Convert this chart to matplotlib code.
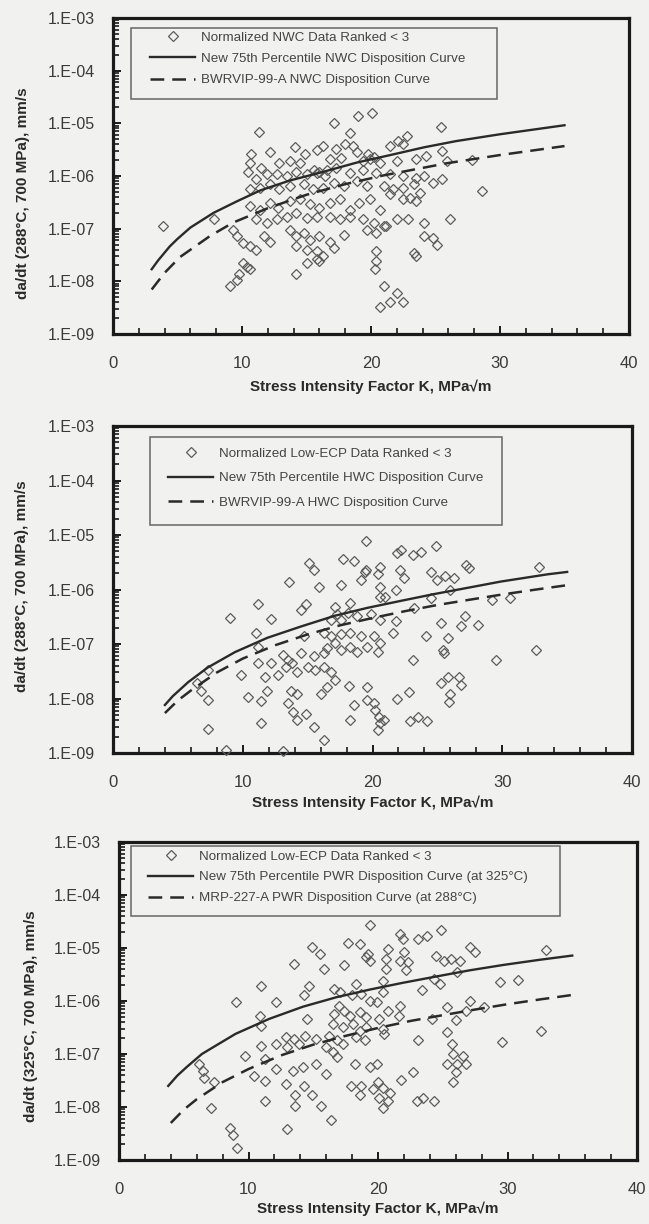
import matplotlib
matplotlib.use("Agg")
import matplotlib.pyplot as plt
from matplotlib.patches import Rectangle
from matplotlib.ticker import MultipleLocator, LogLocator, FuncFormatter, NullFormatter
import numpy as np

plt.rcParams['font.family'] = ['Liberation Sans', 'DejaVu Sans']

# ---- NWC (normal water chemistry) data, 288C ----
nwc_k = [17.1, 19.0, 20.1, 11.3, 25.4, 18.4, 10.7, 12.2, 14.1, 14.9, 15.8, 16.3, 17.3, 18.0, 18.6,
         18.9, 21.5, 22.1, 22.8, 22.5, 23.5, 24.3, 25.5, 25.9, 27.8, 19.4, 19.9, 20.7, 22.0, 13.7,
         12.9, 11.5, 10.5, 10.6, 14.5, 16.8, 17.7, 11.1, 11.9, 12.7, 13.5, 14.2, 15.0, 15.8, 16.6,
         17.3, 18.4, 19.4, 20.4, 21.5, 22.5, 23.5, 24.1, 24.8, 25.5, 28.6, 10.6, 11.4, 12.2, 12.9,
         13.7, 14.8, 15.5, 16.3, 17.1, 17.9, 18.9, 19.7, 21.0, 21.7, 22.5, 23.3, 23.8, 10.6, 11.4,
         12.2, 12.8, 13.7, 14.5, 15.3, 16.0, 16.8, 17.6, 18.4, 19.1, 19.9, 20.7, 21.5, 22.5, 23.0,
         23.5, 11.1, 11.9, 12.7, 13.5, 14.2, 15.0, 15.8, 16.8, 17.6, 18.4, 19.4, 20.2, 21.0, 22.0,
         22.9, 24.1, 26.1, 7.8, 3.9, 9.3, 9.6, 10.1, 10.6, 11.1, 11.7, 12.2, 13.7, 14.2, 14.8,
         15.3, 16.0, 16.8, 17.9, 19.7, 20.4, 21.2, 24.1, 24.8, 25.1, 14.2, 15.0, 15.8, 16.3, 17.1,
         20.4, 23.3, 23.5, 9.1, 9.6, 9.8, 10.4, 10.6, 10.1, 14.2, 15.0, 15.8, 16.0, 20.4, 20.3,
         21.0, 22.0, 21.5, 22.5, 20.7, 16.0, 16.4, 15.6, 20.2, 19.8]
nwc_rate = [1.0e-5, 1.4e-5, 1.6e-5, 6.9e-6, 8.7e-6, 6.5e-6, 2.6e-6, 2.9e-6, 3.5e-6, 2.6e-6, 3.1e-6,
            3.7e-6, 3.3e-6, 4.0e-6, 3.7e-6, 2.8e-6, 3.7e-6, 4.7e-6, 5.8e-6, 4.0e-6, 2.1e-6, 2.4e-6,
            3.0e-6, 1.9e-6, 2.0e-6, 1.9e-6, 2.1e-6, 1.8e-6, 1.9e-6, 1.9e-6, 1.8e-6, 1.4e-6, 1.2e-6,
            1.8e-6, 1.8e-6, 2.1e-6, 2.2e-6, 8.7e-7, 1.07e-6, 1.07e-6, 1.0e-6, 1.2e-6, 1.07e-6,
            1.15e-6, 1.3e-6, 1.4e-6, 1.15e-6, 1.3e-6, 1.15e-6, 1.07e-6, 1.0e-6, 9.3e-7, 1.0e-6,
            7.5e-7, 8.7e-7, 5.2e-7, 5.6e-7, 6.0e-7, 6.9e-7, 5.6e-7, 6.5e-7, 6.9e-7, 5.6e-7, 6.0e-7,
            7.5e-7, 6.5e-7, 8.0e-7, 6.5e-7, 6.5e-7, 5.6e-7, 6.0e-7, 6.9e-7, 4.8e-7, 2.7e-7, 2.3e-7,
            3.1e-7, 2.5e-7, 3.3e-7, 3.6e-7, 2.9e-7, 2.5e-7, 3.1e-7, 3.6e-7, 2.3e-7, 3.1e-7, 3.6e-7,
            2.3e-7, 4.5e-7, 3.6e-7, 3.9e-7, 3.3e-7, 1.5e-7, 1.3e-7, 1.5e-7, 1.7e-7, 2.0e-7, 1.6e-7,
            1.7e-7, 1.7e-7, 1.5e-7, 1.7e-7, 1.5e-7, 1.3e-7, 1.1e-7, 1.5e-7, 1.5e-7, 1.3e-7, 1.5e-7,
            1.5e-7, 1.1e-7, 9.6e-8, 7.2e-8, 5.3e-8, 4.6e-8, 4.0e-8, 7.2e-8, 5.7e-8, 9.6e-8, 7.2e-8,
            8.3e-8, 6.2e-8, 7.2e-8, 5.7e-8, 7.7e-8, 9.6e-8, 8.3e-8, 1.1e-7, 7.2e-8, 6.7e-8, 5.0e-8,
            4.6e-8, 4.0e-8, 3.7e-8, 3.0e-8, 4.3e-8, 3.7e-8, 3.4e-8, 3.0e-8, 8.0e-9, 1.07e-8, 1.4e-8,
            1.9e-8, 1.7e-8, 2.2e-8, 1.4e-8, 2.2e-8, 2.6e-8, 2.4e-8, 2.4e-8, 1.7e-8, 8.0e-9, 5.9e-9,
            4.1e-9, 4.1e-9, 3.3e-9, 1.2e-6, 1.0e-6, 1.3e-6, 2.3e-6, 2.6e-6]
nwc_new_k = [3.0, 3.5, 4.4, 5.0, 6.0, 7.8, 9.6, 11.4, 13.7, 16.3, 18.9, 21.5, 24.1, 26.6, 30.0, 35.0]
nwc_new_rate = [1.7e-8, 2.5e-8, 4.6e-8, 6.4e-8, 1.05e-7, 2.0e-7, 3.3e-7, 5.3e-7, 8.2e-7, 1.2e-6,
                1.8e-6, 2.5e-6, 3.5e-6, 4.6e-6, 6.2e-6, 9.2e-6]
nwc_old_k = [3.0, 4.0, 5.2, 7.5, 9.3, 12.0, 15.0, 18.0, 21.0, 23.5, 25.9, 28.0, 30.0, 35.0]
nwc_old_rate = [7.0e-9, 1.45e-8, 2.9e-8, 7.2e-8, 1.3e-7, 2.45e-7, 4.4e-7, 7.0e-7, 1.03e-6, 1.35e-6,
                1.75e-6, 2.1e-6, 2.5e-6, 3.7e-6]

# ---- HWC / low-ECP data, 288C ----
hwc_k = [19.5, 24.9, 15.1, 15.5, 17.7, 18.6, 21.9, 22.2, 23.1, 23.7, 19.4, 19.5, 20.6, 22.1, 22.4,
         20.4, 19.1, 24.5, 25.0, 25.6, 26.3, 27.2, 27.4, 32.8, 13.6, 15.9, 17.6, 20.6, 21.0, 21.8,
         20.6, 26.0, 24.5, 11.2, 14.9, 14.5, 9.0, 12.2, 23.2, 29.2, 30.6, 17.1, 18.3, 17.3, 18.1,
         18.8, 19.9, 20.6, 21.8, 16.8, 17.6, 25.3, 27.1, 26.8, 28.1, 11.0, 14.7, 16.3, 16.8, 17.6,
         18.3, 19.1, 20.1, 20.6, 21.6, 24.1, 25.8, 11.2, 13.1, 13.5, 14.5, 15.5, 16.3, 16.5, 17.1,
         17.6, 18.3, 18.8, 19.6, 20.4, 25.4, 25.5, 23.1, 29.5, 32.6, 7.3, 6.5, 6.8, 7.3, 9.9,
         11.2, 11.7, 12.2, 12.7, 13.3, 13.8, 14.2, 15.0, 15.6, 16.3, 16.8, 17.1, 10.4, 11.4, 11.9,
         13.7, 14.2, 13.5, 13.9, 14.2, 14.9, 15.5, 16.3, 11.4, 7.3, 16.0, 16.5, 18.2, 18.6, 18.3,
         19.6, 19.6, 20.1, 20.2, 20.5, 20.6, 20.9, 20.4, 21.9, 22.8, 22.9, 23.5, 24.2, 25.3, 25.8,
         26.0, 25.9, 26.7, 26.8, 8.7, 13.1]
hwc_rate = [7.6e-6, 6.3e-6, 3.0e-6, 2.3e-6, 3.6e-6, 3.3e-6, 4.6e-6, 5.3e-6, 4.3e-6, 4.9e-6, 2.1e-6,
            2.3e-6, 2.6e-6, 2.3e-6, 1.6e-6, 1.9e-6, 1.5e-6, 2.1e-6, 1.5e-6, 1.8e-6, 1.6e-6, 2.8e-6,
            2.5e-6, 2.6e-6, 1.4e-6, 1.13e-6, 1.2e-6, 1.13e-6, 7.4e-7, 9.8e-7, 7.4e-7, 9.8e-7, 6.9e-7,
            5.4e-7, 5.4e-7, 4.2e-7, 3.0e-7, 2.9e-7, 4.5e-7, 6.4e-7, 6.9e-7, 4.8e-7, 5.7e-7, 3.5e-7,
            3.7e-7, 3.2e-7, 3.5e-7, 2.8e-7, 2.6e-7, 2.8e-7, 2.8e-7, 2.4e-7, 3.2e-7, 2.1e-7, 2.2e-7,
            1.6e-7, 1.4e-7, 1.6e-7, 1.4e-7, 1.5e-7, 1.6e-7, 1.4e-7, 1.4e-7, 1.03e-7, 1.6e-7, 1.4e-7,
            1.3e-7, 8.9e-8, 6.3e-8, 5.1e-8, 6.7e-8, 5.9e-8, 6.7e-8, 8.6e-8, 1.03e-7, 7.8e-8, 8.9e-8,
            7.2e-8, 8.9e-8, 7.2e-8, 7.8e-8, 6.7e-8, 5.1e-8, 5.1e-8, 7.6e-8, 3.3e-8, 1.9e-8, 1.4e-8,
            9.4e-9, 2.7e-8, 4.4e-8, 2.5e-8, 4.4e-8, 2.7e-8, 3.8e-8, 4.4e-8, 3.1e-8, 3.8e-8, 3.3e-8,
            3.8e-8, 3.1e-8, 2.2e-8, 1.08e-8, 9.0e-9, 1.4e-8, 1.4e-8, 1.2e-8, 8.2e-9, 5.7e-9, 4.0e-9,
            5.3e-9, 3.0e-9, 1.7e-9, 3.5e-9, 2.8e-9, 1.2e-8, 1.6e-8, 1.7e-8, 7.6e-9, 4.0e-9, 1.6e-8,
            9.4e-9, 8.2e-9, 6.2e-9, 4.6e-9, 3.5e-9, 4.0e-9, 2.6e-9, 1.0e-8, 1.3e-8, 3.8e-9, 4.6e-9,
            3.8e-9, 1.9e-8, 2.5e-8, 1.2e-8, 8.8e-9, 2.5e-8, 1.8e-8, 1.15e-9, 1.1e-9]
hwc_new_k = [4.0, 4.6, 5.8, 7.3, 9.4, 11.9, 14.5, 17.1, 19.6, 22.2, 24.7, 27.3, 29.9, 33.5, 35.0]
hwc_new_rate = [7.6e-9, 1.1e-8, 2.0e-8, 3.7e-8, 7.1e-8, 1.3e-7, 2.1e-7, 3.3e-7, 4.6e-7, 6.2e-7,
                8.2e-7, 1.07e-6, 1.4e-6, 1.9e-6, 2.1e-6]
hwc_old_k = [4.0, 5.0, 6.0, 8.0, 10.0, 12.5, 15.0, 17.5, 20.0, 22.5, 25.0, 27.5, 30.0, 32.5, 35.0]
hwc_old_rate = [5.4e-9, 9.2e-9, 1.4e-8, 3.0e-8, 5.4e-8, 9.5e-8, 1.5e-7, 2.2e-7, 3.0e-7, 4.0e-7,
                5.2e-7, 6.5e-7, 8.1e-7, 9.9e-7, 1.2e-6]

# ---- PWR / low-ECP data, normalized to 325C ----
pwr_k = [19.4, 24.9, 14.9, 15.5, 17.7, 18.6, 19.1, 19.4, 19.2, 20.8, 20.6, 21.7, 21.9, 23.1, 23.8,
         22.0, 21.7, 22.2, 22.3, 20.6, 20.4, 13.5, 15.8, 17.4, 24.5, 25.1, 25.6, 26.3, 27.1, 27.5,
         26.1, 33.0, 24.3, 24.8, 11.0, 14.7, 14.3, 9.0, 12.1, 16.6, 17.1, 18.3, 18.0, 18.7, 19.4,
         19.9, 20.4, 23.4, 29.4, 30.8, 27.1, 28.2, 26.8, 21.7, 17.0, 17.4, 16.6, 17.8, 18.6, 19.1,
         20.1, 20.8, 21.6, 10.9, 14.5, 11.0, 16.5, 17.3, 18.1, 18.6, 19.1, 20.4, 20.5, 25.3, 26.0,
         24.2, 25.3, 32.6, 29.6, 23.1, 12.9, 13.5, 14.4, 15.2, 16.2, 16.8, 17.3, 18.3, 19.0, 11.0,
         12.1, 13.0, 13.9, 16.0, 16.5, 16.8, 25.7, 25.8, 26.6, 26.8, 26.1, 25.3, 26.0, 25.8, 9.7,
         11.3, 10.4, 11.3, 12.1, 12.9, 13.4, 14.2, 13.6, 13.6, 14.3, 14.9, 15.6, 15.2, 16.0, 16.4,
         11.3, 13.0, 17.9, 18.2, 18.6, 18.7, 19.4, 19.9, 19.6, 20.0, 20.4, 20.1, 20.4, 20.8, 20.9,
         21.8, 22.7, 23.0, 23.5, 24.3, 6.2, 6.5, 6.6, 7.3, 7.1, 8.6, 8.8, 9.1]
pwr_rate = [2.7e-5, 2.2e-5, 1.04e-5, 7.8e-6, 1.25e-5, 1.2e-5, 6.7e-6, 5.8e-6, 7.8e-6, 9.7e-6,
            6.2e-6, 1.86e-5, 1.5e-5, 1.5e-5, 1.7e-5, 8.4e-6, 5.8e-6, 3.8e-6, 5.4e-6, 4.1e-6, 2.4e-6,
            5.0e-6, 4.1e-6, 4.7e-6, 7.2e-6, 5.8e-6, 6.2e-6, 5.8e-6, 1.04e-5, 8.4e-6, 3.5e-6, 9.3e-6,
            2.6e-6, 2.1e-6, 1.9e-6, 1.9e-6, 1.3e-6, 9.5e-7, 9.5e-7, 1.7e-6, 1.5e-6, 2.1e-6, 1.3e-6,
            1.36e-6, 1.02e-6, 9.5e-7, 1.5e-6, 1.6e-6, 2.3e-6, 2.5e-6, 1.02e-6, 7.6e-7, 6.6e-7, 8.2e-7,
            8.2e-7, 6.6e-7, 5.7e-7, 5.3e-7, 6.1e-7, 4.9e-7, 4.6e-7, 6.6e-7, 5.3e-7, 5.3e-7, 4.6e-7,
            3.4e-7, 3.7e-7, 3.2e-7, 3.7e-7, 2.7e-7, 3.2e-7, 2.9e-7, 2.4e-7, 7.6e-7, 4.3e-7, 4.6e-7,
            2.6e-7, 2.7e-7, 1.7e-7, 1.8e-7, 2.1e-7, 1.9e-7, 2.2e-7, 1.9e-7, 2.2e-7, 1.8e-7, 1.54e-7,
            2.1e-7, 1.8e-7, 1.44e-7, 1.54e-7, 1.33e-7, 1.54e-7, 1.33e-7, 1.1e-7, 8.6e-8, 1.54e-7,
            9.9e-8, 9.2e-8, 6.4e-8, 6.4e-8, 6.4e-8, 4.5e-8, 2.9e-8, 9.2e-8, 8.0e-8, 3.9e-8, 3.1e-8,
            5.2e-8, 2.7e-8, 4.8e-8, 5.6e-8, 1.7e-8, 1.05e-8, 2.5e-8, 1.7e-8, 1.05e-8, 6.4e-8, 4.2e-8,
            5.8e-9, 1.3e-8, 3.8e-9, 2.5e-8, 6.4e-8, 1.7e-8, 2.5e-8, 5.6e-8, 6.4e-8, 2.2e-8, 2.9e-8,
            2.3e-8, 1.5e-8, 9.7e-9, 1.3e-8, 1.85e-8, 3.3e-8, 4.5e-8, 1.3e-8, 1.5e-8, 1.3e-8, 6.4e-8,
            4.8e-8, 3.6e-8, 2.9e-8, 9.7e-9, 4.1e-9, 3.0e-9, 1.7e-9]
pwr_new_k = [3.8, 4.5, 5.2, 6.4, 7.5, 9.0, 11.6, 14.2, 16.8, 19.4, 21.9, 24.5, 27.1, 29.7, 32.5, 35.0]
pwr_new_rate = [2.5e-8, 3.9e-8, 5.6e-8, 1.0e-7, 1.45e-7, 2.4e-7, 4.6e-7, 7.8e-7, 1.18e-6, 1.65e-6,
                2.2e-6, 2.9e-6, 3.8e-6, 4.8e-6, 6.0e-6, 7.2e-6]
pwr_old_k = [4.0, 5.0, 6.0, 8.0, 10.0, 12.5, 15.0, 17.5, 20.0, 22.5, 25.0, 27.5, 30.0, 32.5, 35.0]
pwr_old_rate = [5.0e-9, 8.9e-9, 1.4e-8, 2.95e-8, 5.2e-8, 9.4e-8, 1.5e-7, 2.2e-7, 3.1e-7, 4.2e-7,
                5.4e-7, 6.9e-7, 8.7e-7, 1.07e-6, 1.3e-6]

nwc_labels = ["Normalized NWC Data Ranked < 3",
              "New 75th Percentile NWC Disposition Curve",
              "BWRVIP-99-A NWC Disposition Curve"]
hwc_labels = ["Normalized Low-ECP Data Ranked < 3",
              "New 75th Percentile HWC Disposition Curve",
              "BWRVIP-99-A HWC Disposition Curve"]
pwr_labels = ["Normalized Low-ECP Data Ranked < 3",
              "New 75th Percentile PWR Disposition Curve (at 325°C)",
              "MRP-227-A PWR Disposition Curve (at 288°C)"]

PAPER = '#f1f1ef'
INK = '#2a2a2a'
MARK = '#5c5c5c'
TXT = '#3a3a3a'

W, H = 649, 1224
fig = plt.figure(figsize=(W / 100, H / 100), dpi=100, facecolor=PAPER)


def px_rect(x0, y0, x1, y1):
    # pixel box (top-left origin) -> figure fraction rect
    return [x0 / W, 1 - y1 / H, (x1 - x0) / W, (y1 - y0) / H]


def sci_label(v, pos):
    e = int(round(np.log10(v)))
    return "1.E%+03d" % e if e >= 0 else "1.E-%02d" % (-e)


def panel(rect, k, rate, new_k, new_rate, old_k, old_rate, labels, ylabel,
          ylab_xy, xlab_y, box, anchor, rowgap):
    ax = fig.add_axes(rect, facecolor=PAPER)
    ax.plot(k, rate, ls='none', marker='D', ms=4.9, mfc='none', mec=MARK,
            mew=0.9, label=labels[0], clip_on=False, zorder=3)
    ax.plot(new_k, new_rate, '-', color=INK, lw=1.7, label=labels[1], zorder=4)
    ax.plot(old_k, old_rate, color=INK, lw=1.8, dashes=(5.5, 3.2),
            label=labels[2], zorder=4)

    ax.set_yscale('log')
    ax.set_xlim(0, 40)
    ax.set_ylim(1e-9, 1e-3)

    ax.xaxis.set_major_locator(MultipleLocator(10))
    ax.xaxis.set_minor_locator(MultipleLocator(2))
    ax.yaxis.set_major_locator(LogLocator(base=10, numticks=10))
    ax.yaxis.set_minor_locator(LogLocator(base=10, subs=np.arange(2, 10), numticks=20))
    ax.yaxis.set_major_formatter(FuncFormatter(sci_label))
    ax.yaxis.set_minor_formatter(NullFormatter())

    ax.tick_params(which='both', direction='in', top=False, right=False,
                   color='#1a1a1a')
    ax.tick_params(which='major', length=6, width=1.4)
    ax.tick_params(which='minor', length=4, width=1.2)
    ax.tick_params(axis='x', which='major', labelsize=12, pad=16, labelcolor=TXT)
    ax.tick_params(axis='y', which='major', labelsize=11.5, pad=13, labelcolor=TXT)

    for s in ax.spines.values():
        s.set_linewidth(2.3)
        s.set_color('#1a1a1a')

    ax.set_xlabel("Stress Intensity Factor K, MPa\u221am", fontsize=11,
                  fontweight='bold', color=INK)
    ax.xaxis.label.set_va('center')
    ax.xaxis.set_label_coords(0.5, xlab_y)
    ax.set_ylabel(ylabel, fontsize=11, fontweight='bold', color=INK)
    ax.yaxis.label.set_va('center')
    ax.yaxis.set_label_coords(*ylab_xy)

    # legend frame drawn as its own box so the entries can sit inset from it
    ax.add_patch(Rectangle(box[:2], box[2], box[3], transform=ax.transAxes,
                           fc=PAPER, ec='#666666', lw=1.1, zorder=5))
    leg = ax.legend(loc='upper left', bbox_to_anchor=anchor, frameon=False,
                    fontsize=9.6, handlelength=3.4, handletextpad=0.4,
                    labelspacing=rowgap, borderpad=0, borderaxespad=0,
                    numpoints=1)
    leg.set_zorder(6)
    for t in leg.get_texts():
        t.set_color('#444444')
    return ax


panel(px_rect(113, 18, 629, 334), nwc_k, nwc_rate, nwc_new_k, nwc_new_rate,
      nwc_old_k, nwc_old_rate, nwc_labels, "da/dt (288°C, 700 MPa), mm/s",
      (-0.174, 0.446), -0.168, (0.035, 0.744, 0.709, 0.224), (0.0717, 0.958), 0.68)

panel(px_rect(113, 426, 632, 753), hwc_k, hwc_rate, hwc_new_k, hwc_new_rate,
      hwc_old_k, hwc_old_rate, hwc_labels, "da/dt (288°C, 700 MPa), mm/s",
      (-0.175, 0.51), -0.153, (0.071, 0.697, 0.678, 0.269), (0.106, 0.935), 0.92)

panel(px_rect(119, 842, 637, 1160), pwr_k, pwr_rate, pwr_new_k, pwr_new_rate,
      pwr_old_k, pwr_old_rate, pwr_labels, "da/dt (325°C, 700 MPa), mm/s",
      (-0.170, 0.453), -0.154, (0.023, 0.767, 0.828, 0.220), (0.056, 0.974), 0.64)

fig.savefig("out.png", dpi=100, facecolor=PAPER)
